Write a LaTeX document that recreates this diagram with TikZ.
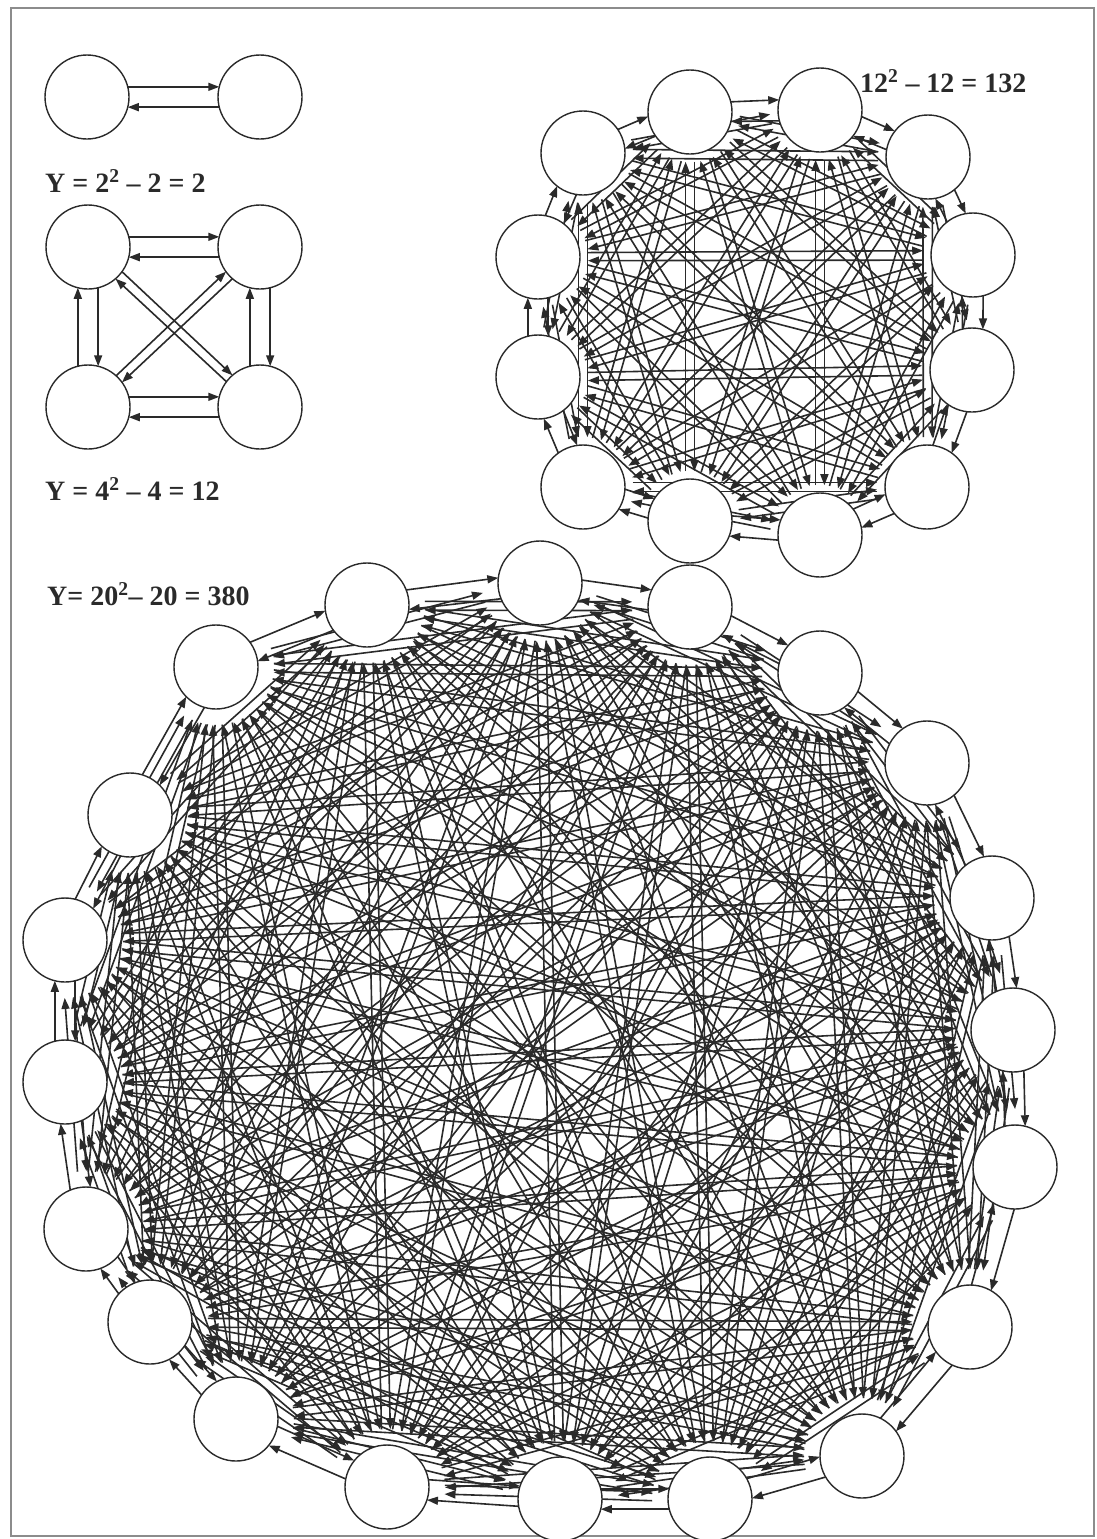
\documentclass[tikz,border=0pt]{standalone}
\usepackage{fontspec}
\setmainfont{Liberation Serif}
\usetikzlibrary{arrows.meta,calc,backgrounds}
\definecolor{kgink}{HTML}{2A2A2A}
\definecolor{kgframe}{HTML}{8C8C8C}
\tikzset{
  kg node/.style={circle, draw=kgink, line width=1.4pt, fill=white,
    minimum size=84pt, inner sep=0pt, outer sep=0pt},
  kg arrow/.style={-{Triangle[length=11pt,width=8pt]}, line width=1.6pt,
    draw=kgink, fill=kgink},
  kg label/.style={font=\bfseries\fontsize{28}{33}\selectfont, text=kgink,
    anchor=base west, inner sep=0pt},
  kg frame/.style={draw=kgframe, line width=1.6pt}
}
% one arrow for every ordered pair of the nodes #11..#1#2,
% chords (not neighbours) shortened by #3
\newcommand\kgedges[3]{%
  \begin{scope}[on background layer]
  \foreach \i in {1,...,#2}{
    \foreach \j in {1,...,#2}{
      \ifnum\i=\j\else
        \pgfmathtruncatemacro\kgd{mod(\j-\i+#2,#2)}
        \def\kgdelta{6}\def\kgshort{#3}
        \ifnum\kgd=1 \def\kgdelta{14}\def\kgshort{0pt}\fi
        \ifnum\kgd=\numexpr#2-1\relax \def\kgdelta{14}\def\kgshort{0pt}\fi
        \draw[kg arrow, shorten <=\kgshort, shorten >=\kgshort]
          let \p1=($(#1\j)-(#1\i)$), \n1={atan2(\y1,\x1)},
          \n2={\n1+\kgdelta}, \n3={\n1+180-\kgdelta} in
          (#1\i.\n2) -- (#1\j.\n3);
      \fi
    }
  }
  \end{scope}
}

\begin{document}
\begin{tikzpicture}[x=1pt, y=-1pt]
  \useasboundingbox (0,0) rectangle (1097,1539);
  \draw[kg frame] (11,8) rectangle (1094,1536);

  % 2 nodes
  \node[kg node] (a1) at (87,97) {};
  \node[kg node] (a2) at (260,97) {};
  \kgedges{a}{2}{0pt}
  \node[kg label] (la) at (45,192) {Y = 2\textsuperscript{2} – 2 = 2};

  % 4 nodes
  \node[kg node] (b1) at (88,247) {};
  \node[kg node] (b2) at (260,247) {};
  \node[kg node] (b3) at (260,407) {};
  \node[kg node] (b4) at (88,407) {};
  \kgedges{b}{4}{0pt}
  \node[kg label] (lb) at (45,500) {Y = 4\textsuperscript{2} – 4 = 12};

  % 12 nodes
  \foreach \p [count=\k] in {(690,112),(820,110),(928,157),(973,255),
      (972,370),(927,487),(820,535),(690,521),(583,487),(538,377),
      (538,257),(583,153)}
    \node[kg node] (c\k) at \p {};
  \kgedges{c}{12}{8pt}
  \node[kg label] (lc) at (860,92) {12\textsuperscript{2} – 12 = 132};

  % 20 nodes
  \foreach \p [count=\k] in {(540,583),(690,607),(820,673),(927,763),
      (992,898),(1013,1030),(1015,1167),(970,1327),(862,1456),(710,1499),
      (560,1499),(387,1487),(236,1419),(150,1322),(86,1229),(65,1082),
      (65,940),(130,815),(216,667),(367,605)}
    \node[kg node] (d\k) at \p {};
  \kgedges{d}{20}{16pt}
  \node[kg label] (ld) at (47,605) {Y= 20\textsuperscript{2}– 20 = 380};
\end{tikzpicture}
\end{document}
